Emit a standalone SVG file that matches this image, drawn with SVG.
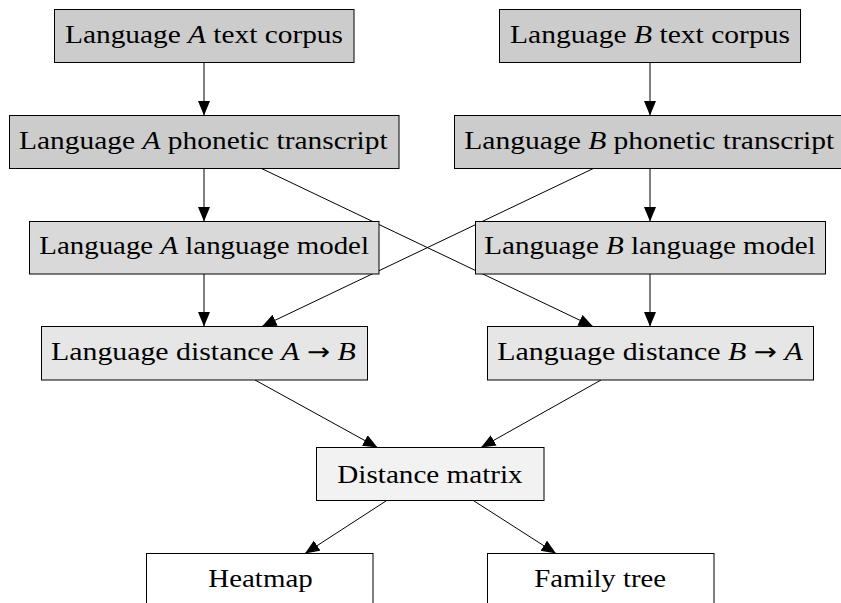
<svg xmlns="http://www.w3.org/2000/svg" width="841" height="603" viewBox="0 0 841 603">
<defs>
<marker id="ah" markerUnits="userSpaceOnUse" markerWidth="15" markerHeight="13" refX="14.5" refY="6" orient="auto">
<path d="M0,0 L14.5,6 L0,12 z" fill="#000"/>
</marker>
<style>
.box{stroke:#000;stroke-width:1}
.c1{fill:#cccccc}.c2{fill:#d9d9d9}.c3{fill:#e6e6e6}.c4{fill:#f2f2f2}.c5{fill:#ffffff}
text{font-family:"Liberation Serif","Times New Roman",serif;font-size:26px;fill:#000}
.i{font-style:italic}
.arr{font-family:"DejaVu Sans",sans-serif;font-size:24px}
.edge{stroke:#000;stroke-width:1;fill:none;marker-end:url(#ah)}
</style>
</defs>
<rect width="841" height="603" fill="#fff"/>
<g id="connectors">
<line class="edge" x1="204" y1="62.5" x2="204" y2="115.5"/>
<line class="edge" x1="650" y1="62.5" x2="650" y2="115.5"/>
<line class="edge" x1="204" y1="168.5" x2="204" y2="221.5"/>
<line class="edge" x1="650" y1="168.5" x2="650" y2="221.5"/>
<line class="edge" x1="204" y1="274" x2="204" y2="326.5"/>
<line class="edge" x1="650" y1="274" x2="650" y2="326.5"/>
<line class="edge" x1="261.5" y1="168.5" x2="593" y2="326.5"/>
<line class="edge" x1="593.3" y1="168.5" x2="262" y2="326.5"/>
<line class="edge" x1="255" y1="380" x2="377.5" y2="447.5"/>
<line class="edge" x1="601" y1="380" x2="481" y2="447.5"/>
<line class="edge" x1="386.7" y1="500.5" x2="305" y2="553.5"/>
<line class="edge" x1="473.3" y1="500.5" x2="556" y2="553.5"/>
</g>
<g id="a_text">
<rect class="box c1" x="54.5" y="9.5" width="299.5" height="53"/>
<text x="65" y="43.3" textLength="278" lengthAdjust="spacingAndGlyphs">Language <tspan class="i">A</tspan> text corpus</text>
</g>
<g id="b_text">
<rect class="box c1" x="499.5" y="9.5" width="301" height="53"/>
<text x="510" y="43.3" textLength="280" lengthAdjust="spacingAndGlyphs">Language <tspan class="i">B</tspan> text corpus</text>
</g>
<g id="a_phon">
<rect class="box c1" x="9.5" y="115.5" width="389.5" height="53"/>
<text x="19" y="148.5" textLength="368.7" lengthAdjust="spacingAndGlyphs">Language <tspan class="i">A</tspan> phonetic transcript</text>
</g>
<g id="b_phon">
<rect class="box c1" x="454.5" y="115.5" width="390" height="53"/>
<text x="464.3" y="148.5" textLength="370" lengthAdjust="spacingAndGlyphs">Language <tspan class="i">B</tspan> phonetic transcript</text>
</g>
<g id="a_model">
<rect class="box c2" x="29.5" y="221.5" width="349.5" height="52.5"/>
<text x="39.3" y="254.3" textLength="329.7" lengthAdjust="spacingAndGlyphs">Language <tspan class="i">A</tspan> language model</text>
</g>
<g id="b_model">
<rect class="box c2" x="475.5" y="221.5" width="350" height="52.5"/>
<text x="484.3" y="254.3" textLength="331.4" lengthAdjust="spacingAndGlyphs">Language <tspan class="i">B</tspan> language model</text>
</g>
<g id="a_dist">
<rect class="box c3" x="41.5" y="326.5" width="326" height="53.5"/>
<text x="51" y="360" textLength="304.7" lengthAdjust="spacingAndGlyphs">Language distance <tspan class="i">A</tspan> <tspan class="arr">→</tspan> <tspan class="i">B</tspan></text>
</g>
<g id="b_dist">
<rect class="box c3" x="487.5" y="326.5" width="326" height="53.5"/>
<text x="497.3" y="360" textLength="305.4" lengthAdjust="spacingAndGlyphs">Language distance <tspan class="i">B</tspan> <tspan class="arr">→</tspan> <tspan class="i">A</tspan></text>
</g>
<g id="matrix">
<rect class="box c4" x="316.5" y="447.5" width="227.5" height="53"/>
<text x="337.3" y="483.3" textLength="185.4" lengthAdjust="spacingAndGlyphs">Distance matrix</text>
</g>
<g id="heatmap">
<rect class="box c5" x="146.5" y="553.5" width="226.5" height="53"/>
<text x="208.3" y="587.3" textLength="104.4" lengthAdjust="spacingAndGlyphs">Heatmap</text>
</g>
<g id="family">
<rect class="box c5" x="487.5" y="553.5" width="226.5" height="53"/>
<text x="534.3" y="587.3" textLength="131.7" lengthAdjust="spacingAndGlyphs">Family tree</text>
</g>
</svg>
